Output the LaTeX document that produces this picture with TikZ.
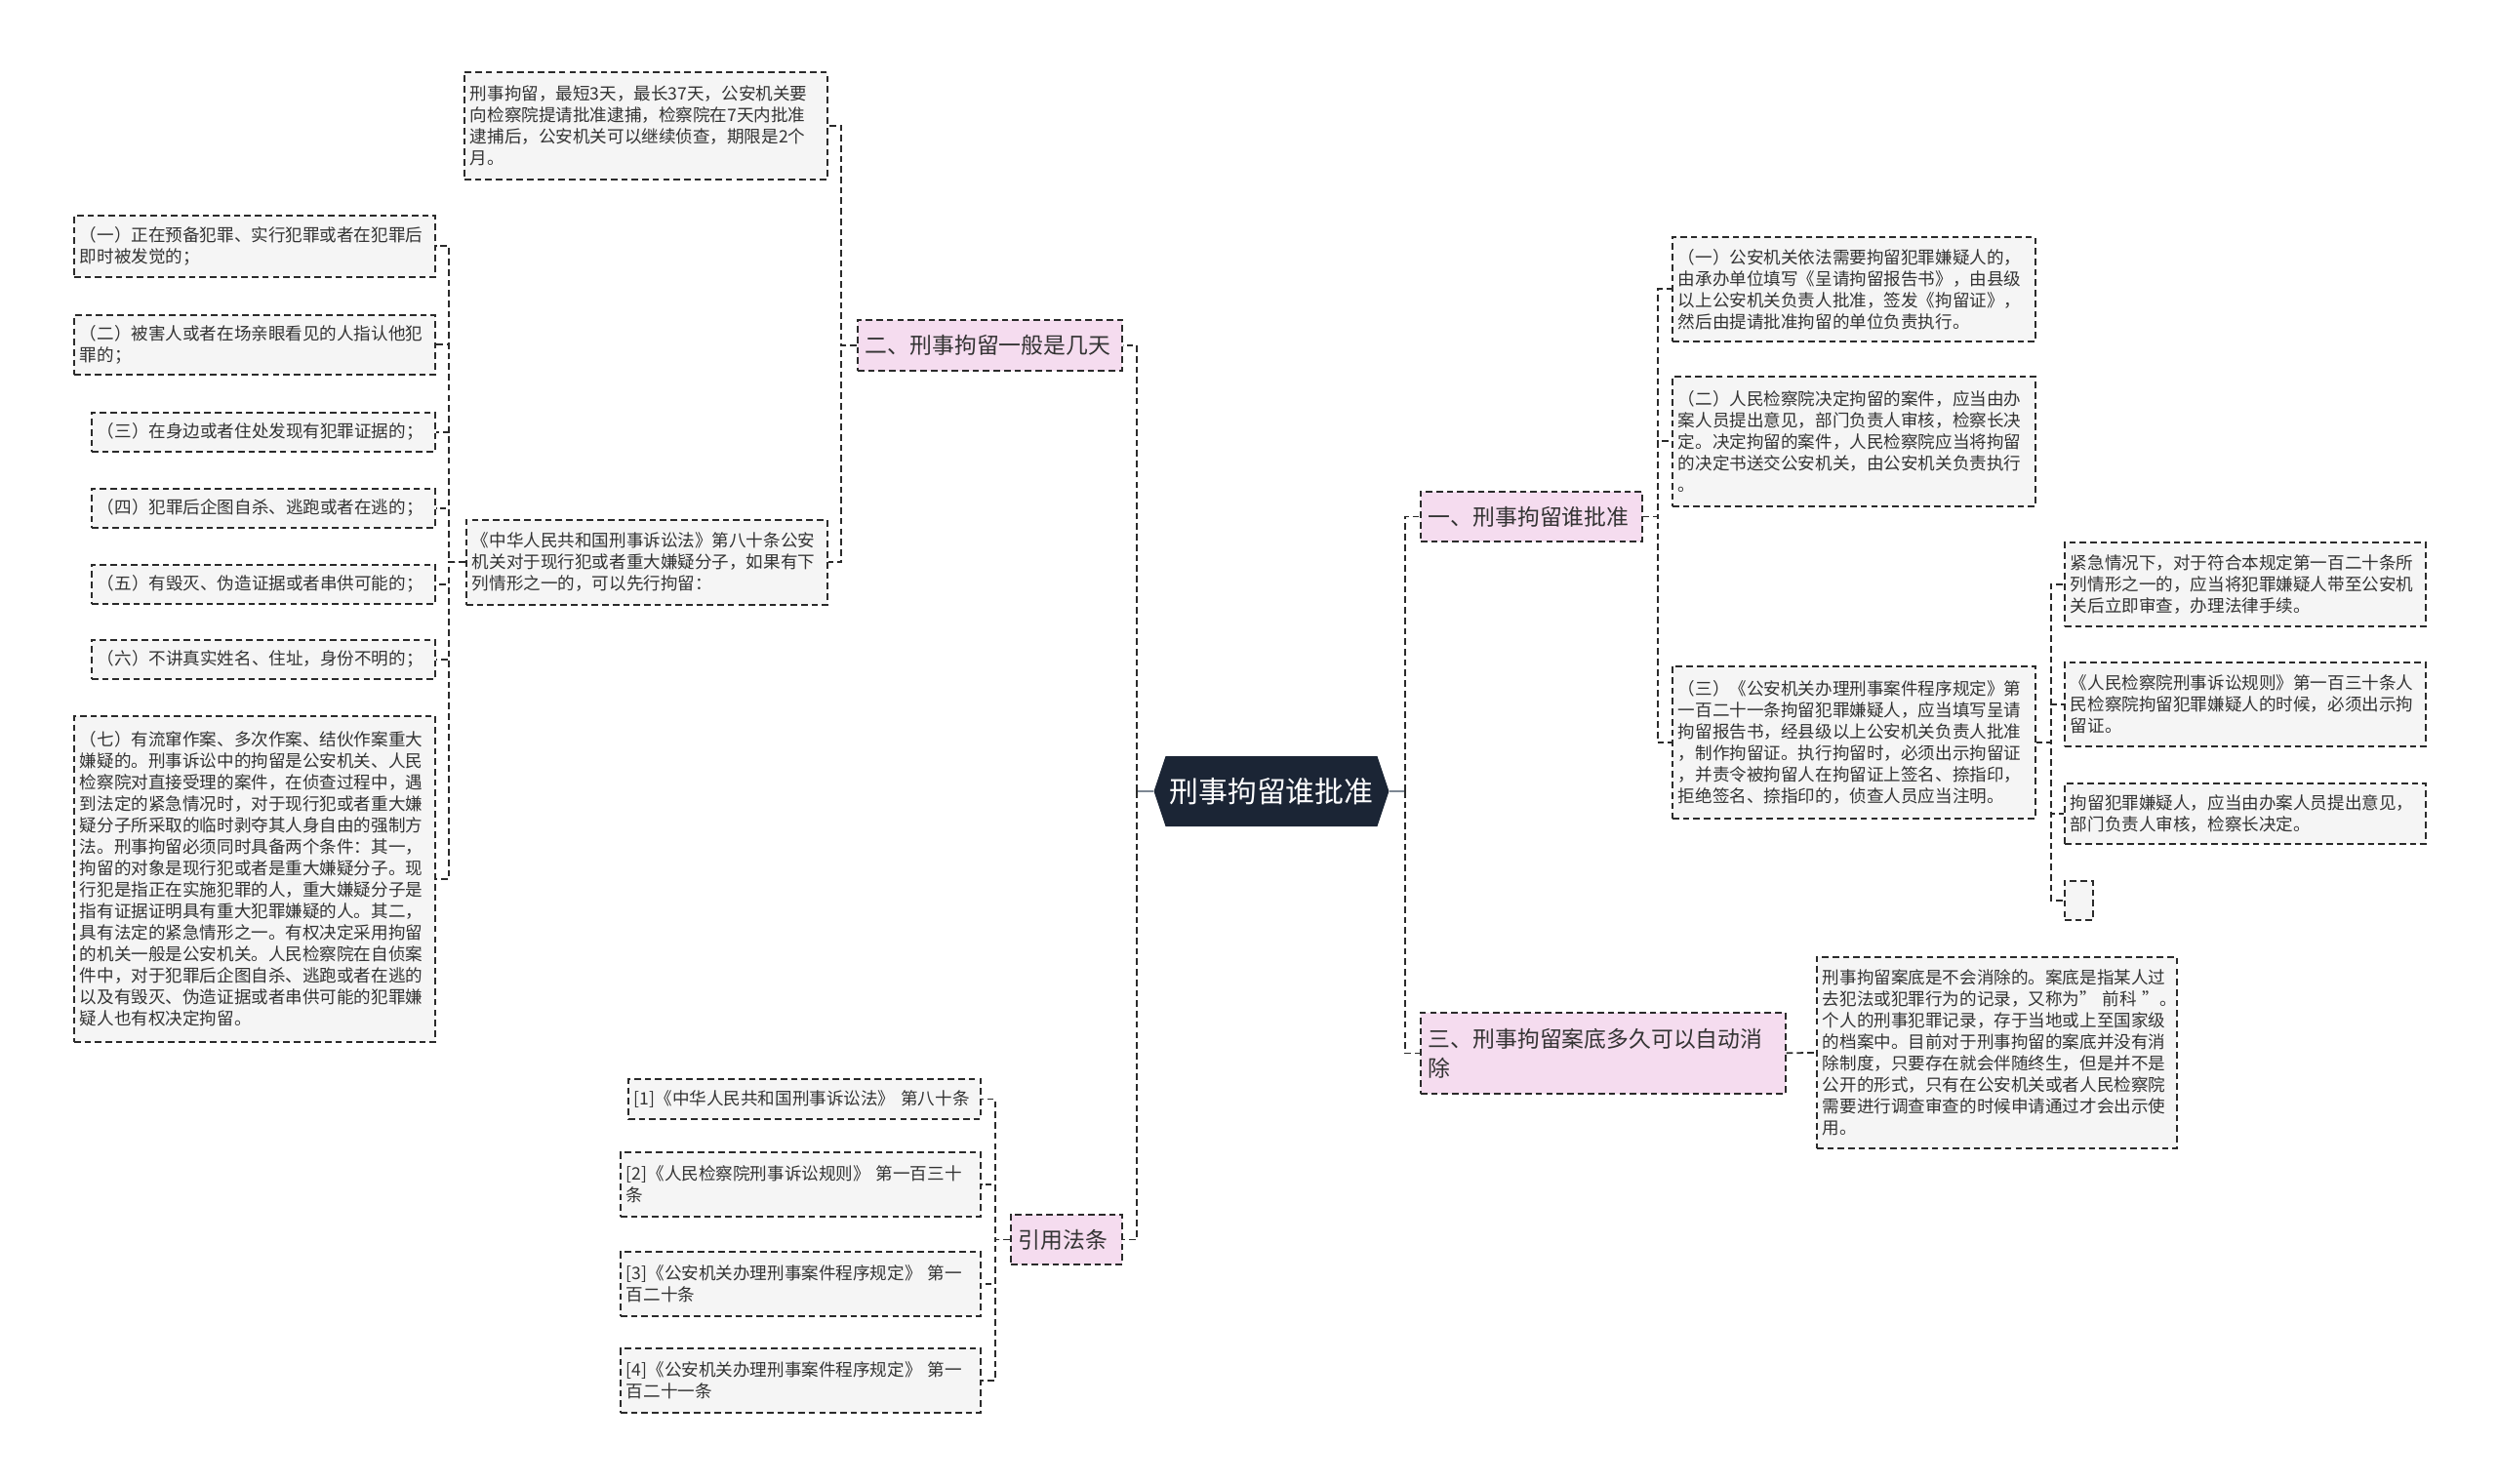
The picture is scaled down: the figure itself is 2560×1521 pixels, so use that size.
\documentclass[tikz,border=0pt]{standalone}
\usepackage{fontspec}
\setmainfont{Noto Sans CJK SC}
\usetikzlibrary{shapes.symbols,calc}
\definecolor{rootnavy}{HTML}{1B2535}
\definecolor{topicpink}{HTML}{F5DCEF}
\definecolor{leafgray}{HTML}{F5F5F5}
\definecolor{edgedark}{HTML}{2B2B2B}
\definecolor{textdark}{HTML}{333333}
\definecolor{stubgray}{HTML}{7D8793}
\tikzset{
  root/.style={shape=signal, signal to=east and west, signal pointer angle=143,
    fill=rootnavy, text=white, minimum width=4.82cm, minimum height=1.44cm,
    inner sep=0pt, font=\fontsize{17}{20}\selectfont},
  % main branches
  topic/.style={draw=edgedark, dash pattern=on 3.8pt off 2.3pt, line width=1pt,
    fill=topicpink, text=textdark, anchor=north west, align=left,
    inner xsep=0.16cm, inner ysep=0pt, font=\fontsize{13}{17}\selectfont},
  % grey text boxes
  leaf/.style={draw=edgedark, dash pattern=on 3.8pt off 2.3pt, line width=1pt,
    fill=leafgray, text=textdark, anchor=north west, align=left,
    inner xsep=0.12cm, inner ysep=0pt, font=\fontsize{10}{12.5}\selectfont},
  link/.style={draw=edgedark, dash pattern=on 3.8pt off 2.3pt, line width=1pt},
  stub/.style={draw=stubgray, line width=1.2pt},
}
\begin{document}
\begin{tikzpicture}[x=0.02cm,y=-0.02cm]
  \fill[white] (0,0) rectangle (2560,1521);
  \useasboundingbox (0,0) rectangle (2560,1521);
  % centre
  \node[root] (root) at (1303,811) {刑事拘留谁批准};
  % main branches
  \node[topic, text width=5.1cm, minimum height=1.04cm] (two) at (878,327) {二、刑事拘留一般是几天};
  \node[topic, text width=1.96cm, minimum height=1.02cm] (cite) at (1035,1244) {引用法条};
  \node[topic, text width=4.22cm, minimum height=1.02cm] (one) at (1455,503) {一、刑事拘留谁批准};
  \node[topic, text width=7.16cm, minimum height=1.66cm] (three) at (1455,1037)
    {三、刑事拘留案底多久可以自动消\\除};
  % left side
  \node[leaf, text width=7.2cm, minimum height=2.2cm] (days) at (475,73)
    {刑事拘留，最短3天，最长37天，公安机关要\\向检察院提请批准逮捕，检察院在7天内批准\\逮捕后，公安机关可以继续侦查，期限是2个\\月。};
  \node[leaf, text width=7.16cm, minimum height=1.74cm] (law80) at (477,532)
    {《中华人民共和国刑事诉讼法》第八十条公安\\机关对于现行犯或者重大嫌疑分子，如果有下\\列情形之一的，可以先行拘留：};
  \node[leaf, text width=7.16cm, minimum height=1.26cm] (cond1) at (75,220)
    {（一）正在预备犯罪、实行犯罪或者在犯罪后\\即时被发觉的；};
  \node[leaf, text width=7.16cm, minimum height=1.22cm] (cond2) at (75,322)
    {（二）被害人或者在场亲眼看见的人指认他犯\\罪的；};
  \foreach \i/\y/\t in {3/422/（三）在身边或者住处发现有犯罪证据的；,
                        4/500/（四）犯罪后企图自杀、逃跑或者在逃的；,
                        5/578/（五）有毁灭、伪造证据或者串供可能的；,
                        6/655/（六）不讲真实姓名、住址，身份不明的；} {
    \node[leaf, text width=6.8cm, minimum height=0.8cm] (cond\i) at (93,\y) {\t};
  }
  \node[leaf, text width=7.16cm, minimum height=6.68cm] (cond7) at (75,733)
    {（七）有流窜作案、多次作案、结伙作案重大\\嫌疑的。刑事诉讼中的拘留是公安机关、人民\\检察院对直接受理的案件，在侦查过程中，遇\\到法定的紧急情况时，对于现行犯或者重大嫌\\疑分子所采取的临时剥夺其人身自由的强制方\\法。刑事拘留必须同时具备两个条件：其一，\\拘留的对象是现行犯或者是重大嫌疑分子。现\\行犯是指正在实施犯罪的人，重大嫌疑分子是\\指有证据证明具有重大犯罪嫌疑的人。其二，\\具有法定的紧急情形之一。有权决定采用拘留\\的机关一般是公安机关。人民检察院在自侦案\\件中，对于犯罪后企图自杀、逃跑或者在逃的\\以及有毁灭、伪造证据或者串供可能的犯罪嫌\\疑人也有权决定拘留。};
  % cited laws
  \node[leaf, text width=6.98cm, minimum height=0.82cm] (ref1) at (643,1105)
    {[1]《中华人民共和国刑事诉讼法》 第八十条};
  \node[leaf, text width=7.14cm, minimum height=1.32cm] (ref2) at (635,1180)
    {[2]《人民检察院刑事诉讼规则》 第一百三十\\条};
  \node[leaf, text width=7.14cm, minimum height=1.32cm] (ref3) at (635,1282)
    {[3]《公安机关办理刑事案件程序规定》 第一\\百二十条};
  \node[leaf, text width=7.14cm, minimum height=1.32cm] (ref4) at (635,1381)
    {[4]《公安机关办理刑事案件程序规定》 第一\\百二十一条};
  % right side
  \node[leaf, text width=7.2cm, minimum height=2.14cm] (one1) at (1713,242)
    {（一）公安机关依法需要拘留犯罪嫌疑人的，\\由承办单位填写《呈请拘留报告书》，由县级\\以上公安机关负责人批准，签发《拘留证》，\\然后由提请批准拘留的单位负责执行。};
  \node[leaf, text width=7.2cm, minimum height=2.66cm] (one2) at (1713,385)
    {（二）人民检察院决定拘留的案件，应当由办\\案人员提出意见，部门负责人审核，检察长决\\定。决定拘留的案件，人民检察院应当将拘留\\的决定书送交公安机关，由公安机关负责执行\\。};
  \node[leaf, text width=7.2cm, minimum height=3.12cm] (one3) at (1713,682)
    {（三）《公安机关办理刑事案件程序规定》第\\一百二十一条拘留犯罪嫌疑人，应当填写呈请\\拘留报告书，经县级以上公安机关负责人批准\\，制作拘留证。执行拘留时，必须出示拘留证\\，并责令被拘留人在拘留证上签名、捺指印，\\拒绝签名、捺指印的，侦查人员应当注明。};
  \node[leaf, text width=7.16cm, minimum height=1.72cm] (rule1) at (2115,555)
    {紧急情况下，对于符合本规定第一百二十条所\\列情形之一的，应当将犯罪嫌疑人带至公安机\\关后立即审查，办理法律手续。};
  \node[leaf, text width=7.16cm, minimum height=1.72cm] (rule2) at (2115,678)
    {《人民检察院刑事诉讼规则》第一百三十条人\\民检察院拘留犯罪嫌疑人的时候，必须出示拘\\留证。};
  \node[leaf, text width=7.16cm, minimum height=1.24cm] (rule3) at (2115,802)
    {拘留犯罪嫌疑人，应当由办案人员提出意见，\\部门负责人审核，检察长决定。};
  \node[leaf, text width=0.34cm, minimum height=0.8cm] (rule4) at (2115,902) {};
  \node[leaf, text width=7.14cm, minimum height=3.92cm] (record) at (1861,980)
    {刑事拘留案底是不会消除的。案底是指某人过\\去犯法或犯罪行为的记录，又称为"~前科~"。\\个人的刑事犯罪记录，存于当地或上至国家级\\的档案中。目前对于刑事拘留的案底并没有消\\除制度，只要存在就会伴随终生，但是并不是\\公开的形式，只有在公安机关或者人民检察院\\需要进行调查审查的时候申请通过才会出示使\\用。};
  % edges
  \draw[stub] (root.west) -- ++(-17,0) coordinate (lt);
  \draw[stub] (root.east) -- ++(16,0) coordinate (rt);
  \foreach \n in {two,cite} \draw[link] (lt) |- (\n.east);
  \foreach \n in {one,three} \draw[link] (rt) |- (\n.west);
  \foreach \n in {days,law80} \draw[link] (two.west) -- ++(-16,0) |- (\n.east);
  \foreach \i in {1,...,7} \draw[link] (law80.west) -- ++(-17,0) |- (cond\i.east);
  \foreach \i in {1,...,4} \draw[link] (cite.west) -- ++(-15,0) |- (ref\i.east);
  \foreach \i in {1,2,3} \draw[link] (one.east) -- ++(15,0) |- (one\i.west);
  \foreach \i in {1,...,4} \draw[link] (one3.east) -- ++(15,0) |- (rule\i.west);
  \draw[link] (three.east) -- (record.west);
\end{tikzpicture}
\end{document}
